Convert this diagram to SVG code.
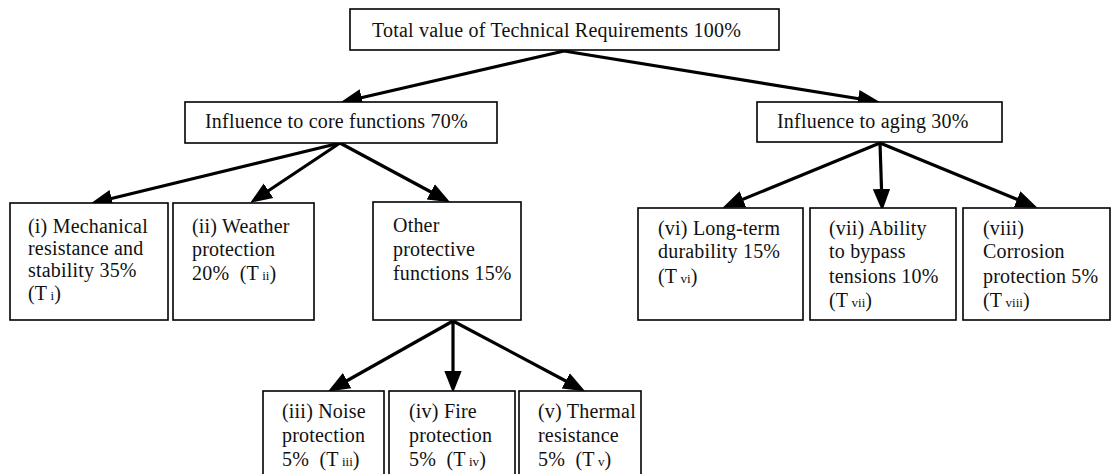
<svg xmlns="http://www.w3.org/2000/svg" width="1113" height="474" viewBox="0 0 1113 474">
<style>
rect.box{fill:#fff;stroke:#000;stroke-width:1.6}
text{font-family:"Liberation Serif","Times New Roman",serif;font-size:20px;fill:#111;letter-spacing:0.2px}
.sub{font-size:13px;letter-spacing:0}
.conn line{stroke:#000;stroke-width:3.2;marker-end:url(#ah)}
</style>
<defs>
<marker id="ah" markerUnits="userSpaceOnUse" markerWidth="22" markerHeight="22" viewBox="0 0 19 15" refX="13" refY="7.5" orient="auto">
<path d="M0,0 L19,7.5 L0,15 Z" fill="#000"/>
</marker>
</defs>
<rect width="1113" height="474" fill="#fff"/>
<g class="conn">
<line x1="564" y1="51" x2="347" y2="101"/>
<line x1="564" y1="51" x2="873" y2="101"/>
<line x1="340" y1="143" x2="97" y2="202"/>
<line x1="340" y1="143" x2="256" y2="199"/>
<line x1="340" y1="143" x2="444" y2="199"/>
<line x1="453" y1="321" x2="334" y2="388"/>
<line x1="453" y1="321" x2="453" y2="386"/>
<line x1="453" y1="321" x2="579" y2="388"/>
<line x1="880" y1="143" x2="729" y2="205"/>
<line x1="880" y1="143" x2="882" y2="204"/>
<line x1="880" y1="143" x2="1031" y2="205"/>
</g>
<g id="n-total">
<rect class="box" x="350" y="9" width="429" height="41"/>
<text x="372" y="37">Total value of Technical Requirements 100%</text>
</g>
<g id="n-core">
<rect class="box" x="185" y="102" width="312" height="41"/>
<text x="205" y="128">Influence to core functions 70%</text>
</g>
<g id="n-aging">
<rect class="box" x="757" y="102" width="245" height="40"/>
<text x="777" y="128">Influence to aging 30%</text>
</g>
<g id="n-i">
<rect class="box" x="10" y="203" width="158" height="117"/>
<text x="28" y="233">(i) Mechanical</text>
<text x="28" y="255">resistance and</text>
<text x="28" y="277">stability 35%</text>
<text x="28" y="300">(T<tspan class="sub">&#160;i</tspan>)</text>
</g>
<g id="n-ii">
<rect class="box" x="173" y="203" width="141" height="117"/>
<text x="192" y="233">(ii) Weather</text>
<text x="192" y="256">protection</text>
<text x="192" y="280">20%&#160; (T<tspan class="sub">&#160;ii</tspan>)</text>
</g>
<g id="n-other">
<rect class="box" x="373" y="202" width="148" height="118"/>
<text x="393" y="232">Other</text>
<text x="393" y="256">protective</text>
<text x="393" y="280">functions 15%</text>
</g>
<g id="n-iii">
<rect class="box" x="263" y="391" width="121" height="100"/>
<text x="282" y="418">(iii) Noise</text>
<text x="282" y="442">protection</text>
<text x="282" y="466">5%&#160; (T<tspan class="sub">&#160;iii</tspan>)</text>
</g>
<g id="n-iv">
<rect class="box" x="389" y="391" width="126" height="100"/>
<text x="409" y="418">(iv) Fire</text>
<text x="409" y="442">protection</text>
<text x="409" y="466">5%&#160; (T<tspan class="sub">&#160;iv</tspan>)</text>
</g>
<g id="n-v">
<rect class="box" x="519" y="391" width="122" height="100"/>
<text x="538" y="418">(v) Thermal</text>
<text x="538" y="442">resistance</text>
<text x="538" y="466">5%&#160; (T<tspan class="sub">&#160;v</tspan>)</text>
</g>
<g id="n-vi">
<rect class="box" x="638" y="208" width="165" height="112"/>
<text x="658" y="235">(vi) Long-term</text>
<text x="658" y="258">durability 15%</text>
<text x="658" y="283">(T<tspan class="sub">&#160;vi</tspan>)</text>
</g>
<g id="n-vii">
<rect class="box" x="810" y="208" width="146" height="112"/>
<text x="829" y="235">(vii) Ability</text>
<text x="829" y="258">to bypass</text>
<text x="829" y="283">tensions 10%</text>
<text x="829" y="307">(T<tspan class="sub">&#160;vii</tspan>)</text>
</g>
<g id="n-viii">
<rect class="box" x="963" y="208" width="147" height="112"/>
<text x="983" y="235">(viii)</text>
<text x="983" y="258">Corrosion</text>
<text x="983" y="283">protection 5%</text>
<text x="983" y="307">(T<tspan class="sub">&#160;viii</tspan>)</text>
</g>
</svg>
